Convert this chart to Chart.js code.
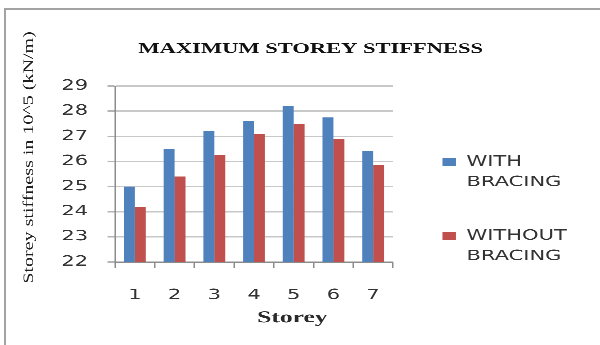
<!DOCTYPE html>
<html>
<head>
<meta charset="utf-8">
<script src="https://cdn.jsdelivr.net/npm/chart.js@4.4.0/dist/chart.umd.min.js"></script>
<style>
  html, body { margin: 0; padding: 0; background: #fff; overflow: hidden; }
  #frame {
    position: absolute; left: 4px; top: 8px; width: 600px; height: 345px;
    border-left: 2px solid #a3a3a3; border-top: 2px solid #a3a3a3;
  }
  /* the chart is laid out narrow and widened horizontally */
  #wrap {
    position: absolute; left: 0; top: 0; width: 400px; height: 345px;
    transform: scaleX(1.5); transform-origin: 0 0;
  }
</style>
</head>
<body>
<div id="frame"></div>
<div id="wrap"><canvas id="c"></canvas></div>
<script>
const storeys = ['1', '2', '3', '4', '5', '6', '7'];
const withBracing = [25.0, 26.5, 27.2, 27.6, 28.2, 27.75, 26.4];
const withoutBracing = [24.2, 25.4, 26.25, 27.1, 27.5, 26.9, 25.85];
const seriesNames = ['WITH BRACING', 'WITHOUT BRACING'];
const yTicks = [22, 23, 24, 25, 26, 27, 28, 29];
const chartTitle = 'MAXIMUM STOREY STIFFNESS';
const xTitle = 'Storey';
const yTitle = 'Storey stiffness in 10^5 (kN/m)';

// Axis titles drawn beside the plot area
const axisTitles = {
  id: 'axisTitles',
  afterDraw(chart) {
    const { ctx, chartArea } = chart;
    ctx.save();
    ctx.fillStyle = '#2b2b2b';
    ctx.textAlign = 'center';
    ctx.textBaseline = 'middle';
    ctx.font = 'bold 17px "Liberation Serif", serif';
    const w = chartArea.right - chartArea.left;
    ctx.fillText(xTitle, chartArea.left + w * 0.638, chartArea.bottom + 56);
    ctx.restore();

    ctx.save();
    ctx.fillStyle = '#1e1e1e';
    ctx.textAlign = 'center';
    ctx.textBaseline = 'middle';
    ctx.font = '10px "Liberation Serif", serif';
    ctx.translate(19.5, chartArea.top + 71.5);
    ctx.rotate(-Math.PI / 2);
    ctx.scale(2.0, 1);
    ctx.fillText(yTitle, 0, 0);
    ctx.restore();
  }
};

new Chart(document.getElementById('c'), {
  type: 'bar',
  data: {
    labels: storeys,
    datasets: [
      { label: seriesNames[0], data: withBracing, backgroundColor: '#4f81bd' },
      { label: seriesNames[1], data: withoutBracing, backgroundColor: '#c0504d' }
    ]
  },
  options: {
    responsive: true,
    maintainAspectRatio: false,
    animation: false,
    devicePixelRatio: 3,
    layout: { padding: { left: 30, right: 15.7, top: 0, bottom: 42 } },
    datasets: { bar: { categoryPercentage: 0.55, barPercentage: 1 } },
    scales: {
      x: {
        grid: { display: true, drawOnChartArea: false, drawTicks: true, tickLength: 6, tickColor: '#8c8c8c', offset: true },
        border: { color: '#8c8c8c', width: 1 },
        ticks: { color: '#333', font: { family: 'DejaVu Sans', size: 14 }, padding: 19, maxRotation: 0 },
        afterFit(scale) { scale.height = 41; }
      },
      y: {
        min: yTicks[0],
        max: yTicks[yTicks.length - 1],
        grid: { color: '#c8c8c8', lineWidth: 1.5, tickLength: 5, tickColor: '#b4b4b4' },
        border: { color: '#8c8c8c', width: 1 },
        ticks: { color: '#333', font: { family: 'DejaVu Sans', size: 14 }, padding: 13 },
        afterBuildTicks(scale) { scale.ticks = yTicks.map(v => ({ value: v })); },
        afterFit(scale) { scale.width = 46.7; }
      }
    },
    plugins: {
      title: {
        display: true,
        text: chartTitle,
        color: '#111',
        font: { family: 'Liberation Serif', size: 15, weight: 'bold', lineHeight: 1.2 },
        padding: { top: 40, bottom: 28 }
      },
      legend: {
        position: 'right',
        align: 'end',
        maxWidth: 250,
        labels: {
          boxWidth: 9,
          boxHeight: 8,
          padding: 33,
          color: '#333',
          font: { family: 'DejaVu Sans', size: 14, lineHeight: 1.464 },
          generateLabels(chart) {
            const items = Chart.defaults.plugins.legend.labels.generateLabels(chart);
            items.forEach(it => { it.text = it.text.split(' '); });
            return items;
          }
        }
      },
      tooltip: { enabled: false }
    }
  },
  plugins: [axisTitles]
});
</script>
</body>
</html>
